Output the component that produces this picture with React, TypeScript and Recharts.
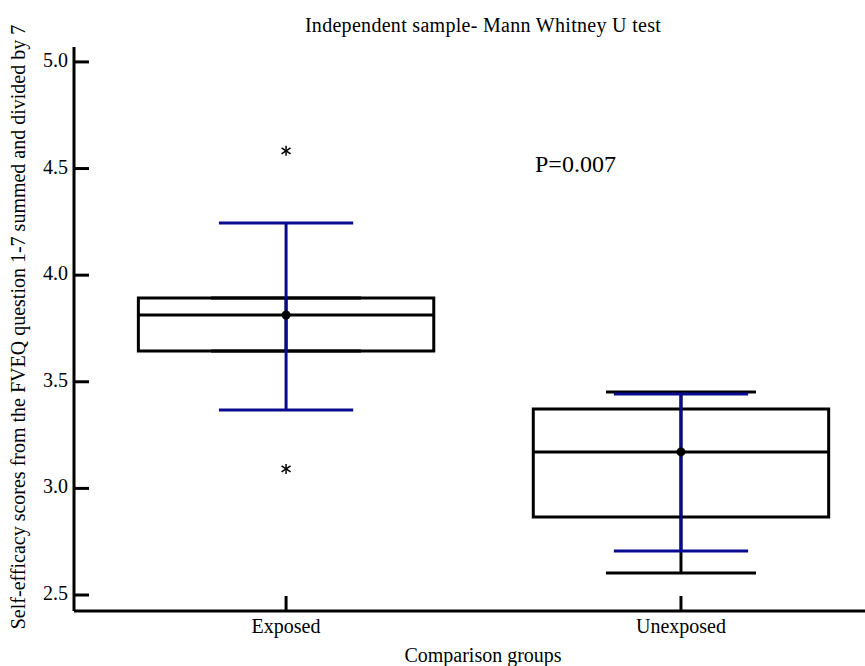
import React from 'react';
import { ComposedChart, XAxis, YAxis, Scatter, ReferenceArea, ReferenceLine, Customized } from 'recharts';

// values
const groups = ['Exposed', 'Unexposed'];
const groupPos = [1, 2];
const q1 = [3.644, 2.866];
const median = [3.813, 3.171];
const q3 = [3.893, 3.372];
const whiskerLow = [3.644, 2.603];
const whiskerHigh = [3.893, 3.452];
const meanVals = [3.813, 3.171];
const barLow = [3.368, 2.706];
const barHigh = [4.245, 3.443];
const outlierGroup = [0, 0];
const outlierValues = [4.583, 3.091];
const yTicks = [2.5, 3.0, 3.5, 4.0, 4.5, 5.0];

const FONT = 'Liberation Serif, DejaVu Serif, serif';
const BLUE = '#0a0a8f';
const BOX_HALF = 0.374;
const CAP_HALF = 0.19;
const BAR_CAP_HALF = 0.17;

const meanData = groupPos.map((x, i) => ({ x, y: meanVals[i] }));
const outlierData = outlierValues.map((v, i) => ({ x: groupPos[outlierGroup[i]], y: v }));

const XTick = ({ x, y, payload }: any) => (
  <g>
    <line x1={x} y1={y} x2={x} y2={y - 15} stroke="#000" strokeWidth={3} />
    <text x={x} y={y + 22} textAnchor="middle" style={{ fontFamily: FONT, fontSize: 20 }} fill="#000">
      {groups[payload.value - 1]}
    </text>
  </g>
);

const YTick = ({ x, y, payload }: any) => (
  <g>
    <line x1={x} y1={y} x2={x + 15} y2={y} stroke="#000" strokeWidth={3} />
    <text x={x - 6} y={y + 5} textAnchor="end" style={{ fontFamily: FONT, fontSize: 20 }} fill="#000">
      {payload.value.toFixed(1)}
    </text>
  </g>
);

const MeanDot = ({ cx, cy }: any) => <circle cx={cx} cy={cy} r={4.5} fill="#000" />;

const Star = ({ cx, cy }: any) => (
  <g stroke="#000" strokeWidth={1.5}>
    <line x1={cx} y1={cy - 5} x2={cx} y2={cy + 5} />
    <line x1={cx - 4.5} y1={cy - 3} x2={cx + 4.5} y2={cy + 3} />
    <line x1={cx - 4.5} y1={cy + 3} x2={cx + 4.5} y2={cy - 3} />
  </g>
);

const Texts = () => (
  <g fill="#000">
    <text x={483} y={32} textAnchor="middle" style={{ fontFamily: FONT, fontSize: 20, letterSpacing: 0.3 }}>
      Independent sample- Mann Whitney U test
    </text>
    <text x={535} y={172} style={{ fontFamily: FONT, fontSize: 24 }}>P=0.007</text>
    <text x={483} y={662} textAnchor="middle" style={{ fontFamily: FONT, fontSize: 20 }}>Comparison groups</text>
    <text x={25} y={327} textAnchor="middle" style={{ fontFamily: FONT, fontSize: 20 }} transform="rotate(-90 25 327)">
      Self-efficacy scores from the FVEQ question 1-7 summed and divided by 7
    </text>
  </g>
);

export default function App() {
  return (
    <div style={{ position: 'absolute', left: 0, top: 0, background: '#fff' }}>
      <ComposedChart width={865} height={666} margin={{ top: 47, right: 0, bottom: 0, left: 0 }}>
        <XAxis
          type="number"
          dataKey="x"
          domain={[0.463, 2.466]}
          ticks={groupPos}
          interval={0}
          allowDataOverflow
          height={55}
          tickSize={0}
          tickMargin={0}
          tickLine={false}
          axisLine={{ stroke: '#000', strokeWidth: 3 }}
          tick={<XTick />}
        />
        <YAxis
          type="number"
          domain={[2.425, 5.07]}
          ticks={yTicks}
          interval={0}
          allowDataOverflow
          width={74}
          tickSize={0}
          tickMargin={0}
          tickLine={false}
          axisLine={{ stroke: '#000', strokeWidth: 3 }}
          tick={<YTick />}
        />
        {groupPos.map((x, i) => (
          <ReferenceArea
            key={`box${i}`}
            x1={x - BOX_HALF}
            x2={x + BOX_HALF}
            y1={q1[i]}
            y2={q3[i]}
            fill="none"
            fillOpacity={0}
            stroke="#000"
            strokeWidth={3}
          />
        ))}
        {groupPos.map((x, i) => (
          <ReferenceLine key={`med${i}`} segment={[{ x: x - BOX_HALF, y: median[i] }, { x: x + BOX_HALF, y: median[i] }]} stroke="#000" strokeWidth={3} />
        ))}
        {groupPos.map((x, i) => (
          <ReferenceLine key={`wv${i}`} segment={[{ x, y: whiskerLow[i] }, { x, y: whiskerHigh[i] }]} stroke="#000" strokeWidth={3} />
        ))}
        {groupPos.map((x, i) => (
          <ReferenceLine key={`wl${i}`} segment={[{ x: x - CAP_HALF, y: whiskerLow[i] }, { x: x + CAP_HALF, y: whiskerLow[i] }]} stroke="#000" strokeWidth={3} />
        ))}
        {groupPos.map((x, i) => (
          <ReferenceLine key={`wh${i}`} segment={[{ x: x - CAP_HALF, y: whiskerHigh[i] }, { x: x + CAP_HALF, y: whiskerHigh[i] }]} stroke="#000" strokeWidth={3} />
        ))}
        {groupPos.map((x, i) => (
          <ReferenceLine key={`bv${i}`} segment={[{ x, y: barLow[i] }, { x, y: barHigh[i] }]} stroke={BLUE} strokeWidth={3} />
        ))}
        {groupPos.map((x, i) => (
          <ReferenceLine key={`bl${i}`} segment={[{ x: x - BAR_CAP_HALF, y: barLow[i] }, { x: x + BAR_CAP_HALF, y: barLow[i] }]} stroke={BLUE} strokeWidth={3} />
        ))}
        {groupPos.map((x, i) => (
          <ReferenceLine key={`bh${i}`} segment={[{ x: x - BAR_CAP_HALF, y: barHigh[i] }, { x: x + BAR_CAP_HALF, y: barHigh[i] }]} stroke={BLUE} strokeWidth={3} />
        ))}
        <Scatter data={meanData} dataKey="y" shape={<MeanDot />} isAnimationActive={false} />
        <Scatter data={outlierData} dataKey="y" shape={<Star />} isAnimationActive={false} />
        <Customized component={Texts} />
      </ComposedChart>
    </div>
  );
}
